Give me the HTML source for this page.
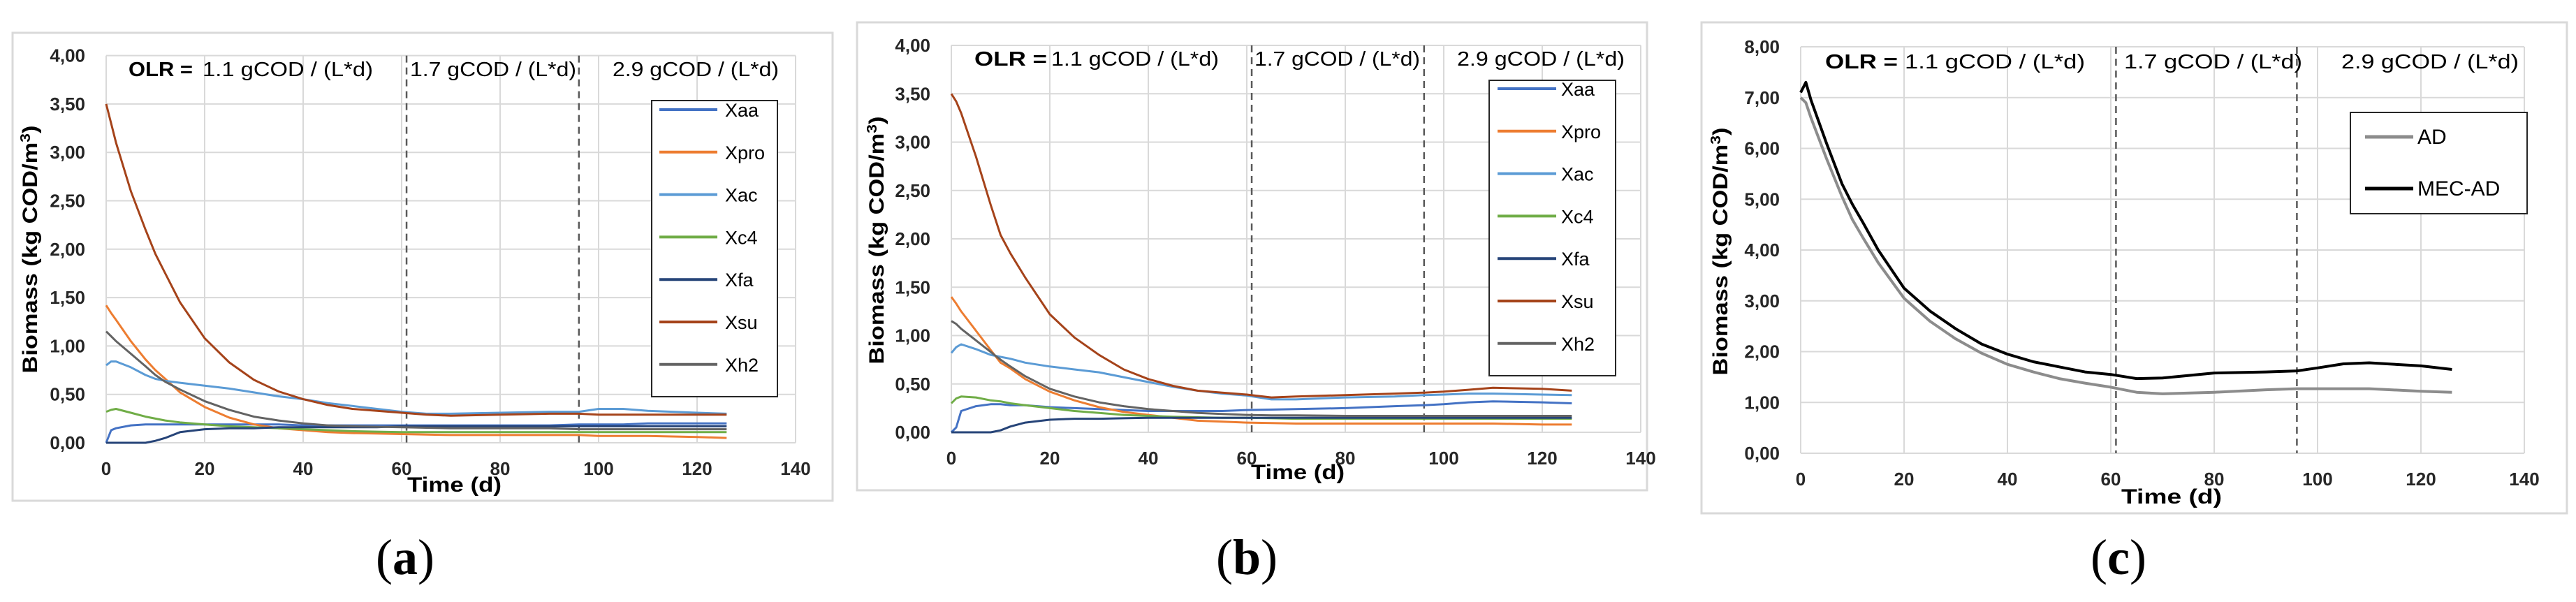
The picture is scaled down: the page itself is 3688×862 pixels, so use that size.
<!DOCTYPE html>
<html><head><meta charset="utf-8"><style>
html,body{margin:0;padding:0;background:#fff;}
svg{display:block;}
text{font-family:"Liberation Sans",sans-serif;}
</style></head>
<body>
<svg id="fig" width="3688" height="862" viewBox="0 0 3688 862" xmlns="http://www.w3.org/2000/svg"></svg>
<script>
// ---- shared data ----
const days = [0,1,2,5,8,10,12,15,20,25,30,35,40,45,50,55,60,65,70,80,90,96,100,105,110,120,126];
const xTicks = [0,20,40,60,80,100,120,140];
const olrBreaks = [61,96];
const seriesNames = ["Xaa","Xpro","Xac","Xc4","Xfa","Xsu","Xh2"];
const seriesColors = ["#4472C4","#ED7D31","#5B9BD5","#70AD47","#264478","#A5431A","#636363"];
const yTicksAB = [0,0.5,1,1.5,2,2.5,3,3.5,4];
const yTicksC = [0,1,2,3,4,5,6,7,8];

// panel (a)
const aXaa = [0,0.13,0.15,0.18,0.19,0.19,0.19,0.19,0.19,0.19,0.19,0.19,0.18,0.18,0.18,0.18,0.18,0.18,0.18,0.18,0.18,0.19,0.19,0.19,0.2,0.2,0.2];
const aXpro = [1.42,1.34,1.27,1.05,0.86,0.75,0.66,0.52,0.37,0.26,0.19,0.15,0.13,0.11,0.10,0.095,0.09,0.085,0.08,0.08,0.08,0.08,0.07,0.07,0.07,0.06,0.05];
const aXac = [0.8,0.84,0.84,0.78,0.70,0.66,0.64,0.62,0.59,0.56,0.52,0.48,0.45,0.41,0.38,0.35,0.32,0.30,0.30,0.31,0.32,0.32,0.35,0.35,0.33,0.31,0.30];
const aXc4 = [0.32,0.34,0.35,0.31,0.27,0.25,0.23,0.21,0.19,0.17,0.16,0.15,0.14,0.13,0.12,0.115,0.11,0.11,0.11,0.11,0.11,0.11,0.11,0.11,0.11,0.11,0.11];
const aXfa = [0,0,0,0,0,0.02,0.05,0.11,0.14,0.15,0.15,0.16,0.16,0.16,0.16,0.16,0.17,0.17,0.17,0.17,0.17,0.17,0.17,0.17,0.17,0.17,0.17];
const aXsu = [3.5,3.3,3.1,2.6,2.2,1.95,1.75,1.45,1.08,0.83,0.65,0.53,0.45,0.39,0.35,0.33,0.31,0.29,0.28,0.29,0.30,0.30,0.29,0.29,0.29,0.29,0.29];
const aXh2 = [1.15,1.1,1.05,0.92,0.79,0.70,0.63,0.55,0.43,0.34,0.27,0.23,0.2,0.18,0.17,0.165,0.16,0.155,0.15,0.15,0.15,0.14,0.14,0.14,0.14,0.14,0.14];

// panel (b)
const bXaa = [0,0.05,0.22,0.27,0.29,0.29,0.28,0.28,0.26,0.25,0.24,0.23,0.22,0.22,0.22,0.22,0.23,0.235,0.24,0.25,0.27,0.28,0.29,0.31,0.32,0.31,0.30];
const bXpro = [1.4,1.33,1.25,1.05,0.85,0.72,0.66,0.55,0.42,0.33,0.26,0.21,0.18,0.15,0.12,0.11,0.10,0.095,0.09,0.09,0.09,0.09,0.09,0.09,0.09,0.08,0.08];
const bXac = [0.82,0.88,0.91,0.86,0.8,0.78,0.76,0.72,0.68,0.65,0.62,0.57,0.52,0.47,0.43,0.40,0.38,0.34,0.34,0.36,0.37,0.385,0.39,0.40,0.40,0.39,0.385];
const bXc4 = [0.3,0.35,0.37,0.36,0.33,0.32,0.3,0.28,0.25,0.22,0.2,0.18,0.17,0.16,0.155,0.15,0.15,0.145,0.14,0.14,0.14,0.14,0.14,0.14,0.14,0.14,0.14];
const bXfa = [0,0,0,0,0,0.02,0.06,0.1,0.13,0.14,0.14,0.145,0.15,0.15,0.15,0.15,0.15,0.15,0.15,0.15,0.15,0.15,0.15,0.15,0.15,0.15,0.15];
const bXsu = [3.5,3.42,3.3,2.85,2.35,2.04,1.85,1.6,1.22,0.98,0.8,0.65,0.55,0.48,0.43,0.41,0.39,0.36,0.37,0.385,0.40,0.41,0.42,0.44,0.46,0.45,0.43];
const bXh2 = [1.15,1.12,1.07,0.95,0.83,0.75,0.68,0.58,0.45,0.37,0.31,0.27,0.24,0.22,0.2,0.19,0.18,0.175,0.175,0.17,0.17,0.17,0.17,0.17,0.17,0.17,0.17];

// panel (c)
const cAD = [7.0,6.9,6.6,5.8,5.05,4.6,4.25,3.75,3.05,2.6,2.25,1.97,1.75,1.6,1.47,1.38,1.3,1.2,1.17,1.2,1.25,1.27,1.27,1.27,1.27,1.22,1.2];
const cMEC = [7.1,7.3,6.95,6.1,5.3,4.9,4.55,4.0,3.25,2.8,2.45,2.15,1.95,1.8,1.7,1.6,1.55,1.47,1.48,1.58,1.6,1.62,1.68,1.76,1.78,1.72,1.65];

const NS = "http://www.w3.org/2000/svg";
const svg = document.getElementById("fig");
function mk(tag, attrs, parent, txt){
  const e = document.createElementNS(NS, tag);
  for (const k in attrs) e.setAttribute(k, attrs[k]);
  if (txt !== undefined) e.textContent = txt;
  (parent || svg).appendChild(e);
  return e;
}
function fmt(v){ return v.toFixed(2).replace(".", ","); }

function panel(P){
  const g = mk("g", {});
  
  
  const fr = mk("rect", {x:P.fx0, y:P.fy0, width:P.fx1-P.fx0, height:P.fy1-P.fy0, fill:"#fff", stroke:"#d9d9d9", "stroke-width":3}, g);
  
  
  const X = d => P.x0 + d * P.xs;
  const Y = v => P.y0 - v * P.ys;
  P.yTicks.forEach(t => {
    const l = mk("line", {x1:X(0), x2:X(140), y1:Y(t), y2:Y(t), stroke:"#d9d9d9", "stroke-width":2}, g);
    
    
    const tx = mk("text", {x:P.x0-30, y:Y(t)+9, "text-anchor":"end", "font-size":26, "font-weight":"bold", fill:"#262626"}, g, fmt(t));
    
    
  });
  xTicks.forEach(t => {
    const l = mk("line", {x1:X(t), x2:X(t), y1:Y(P.yTicks[P.yTicks.length-1]), y2:P.y0, stroke:"#d9d9d9", "stroke-width":2}, g);
    
    
    const tx = mk("text", {x:X(t), y:P.y0+46, "text-anchor":"middle", "font-size":26, "font-weight":"bold", fill:"#262626"}, g, String(t));
    
    
  });
  olrBreaks.forEach(b => {
    const l = mk("line", {x1:X(b), x2:X(b), y1:Y(P.yTicks[P.yTicks.length-1]), y2:P.y0, stroke:"#595959", "stroke-width":2.5, "stroke-dasharray":"10,7"}, g);
    
    
  });
  P.series.forEach((s, i) => {
    const d = days.map((t, k) => (k ? "L" : "M") + X(t).toFixed(1) + "," + Y(s.vals[k]).toFixed(1)).join(" ");
    const p = mk("path", {d:d, fill:"none", stroke:s.color, "stroke-width":P.lw, "stroke-linejoin":"round"}, g);
    
    
  });
  P.ann.forEach(a => {
    const t = mk("text", {x:a.x, y:P.annY, "font-size":29, fill:"#000", textLength:a.w, lengthAdjust:"spacingAndGlyphs", "font-weight":a.bold?"bold":"normal"}, g, a.t);
    
    
  });
  const xt = mk("text", {x:P.tx, y:P.ty, "font-size":30, "font-weight":"bold", textLength:P.tw, lengthAdjust:"spacingAndGlyphs", fill:"#000"}, g, "Time (d)");
  
  
  const yt = mk("text", {x:0, y:0, "font-size":30, "font-weight":"bold", "text-anchor":"middle", textLength:355, lengthAdjust:"spacingAndGlyphs", fill:"#000", transform:"translate(" + P.ytx + "," + P.yty + ") rotate(-90)"}, g);
  
  
  yt.appendChild(document.createTextNode("Biomass (kg COD/m"));
  mk("tspan", {"font-size":20, dy:-10}, yt, "3");
  mk("tspan", {dy:10}, yt, ")");
  const L = P.leg;
  const lg = mk("g", {}, g);
  
  
  mk("rect", {x:L.x0, y:L.y0, width:L.x1-L.x0, height:L.y1-L.y0, fill:"#fff", stroke:"#262626", "stroke-width":2}, lg);
  P.series.forEach((s, i) => {
    const y = L.ey0 + i * L.step;
    const e = mk("g", {}, lg);
    
    
    mk("line", {x1:L.lx0, x2:L.lx1, y1:y, y2:y, stroke:s.color, "stroke-width":P.lw+1}, e);
    mk("text", {x:L.tx, y:y+10, "font-size":L.fs, fill:"#000"}, e, s.name);
  });
  const cap = mk("text", {x:P.capx, y:822, "text-anchor":"middle", "font-size":72, style:"font-family:'Liberation Serif',serif"}, svg);
  
  
  cap.appendChild(document.createTextNode("("));
  mk("tspan", {"font-weight":"bold"}, cap, P.letter);
  cap.appendChild(document.createTextNode(")"));
}

function abSeries(arrs){ return seriesNames.map((n, i) => ({name:n, color:seriesColors[i], vals:arrs[i]})); }

panel({name:"panel-a", letter:"a", fx0:18, fx1:1192, fy0:47, fy1:717, x0:152, xs:7.05, y0:634, ys:138.6, yTicks:yTicksAB, lw:3,
  series: abSeries([aXaa,aXpro,aXac,aXc4,aXfa,aXsu,aXh2]),
  annY:109, ann:[{x:184,w:92,t:"OLR =",bold:true},{x:290,w:244,t:"1.1 gCOD / (L*d)"},{x:587,w:238,t:"1.7 gCOD / (L*d)"},{x:877,w:238,t:"2.9 gCOD / (L*d)"}],
  tx:583, ty:704, tw:135, ytx:53, yty:357,
  leg:{x0:933,x1:1113,y0:144,y1:568,ey0:157,step:60.8,lx0:944,lx1:1027,tx:1038,fs:27},
  capx:580});

panel({name:"panel-b", letter:"b", fx0:1227, fx1:2358, fy0:32, fy1:702, x0:1362, xs:7.05, y0:619, ys:138.5, yTicks:yTicksAB, lw:3,
  series: abSeries([bXaa,bXpro,bXac,bXc4,bXfa,bXsu,bXh2]),
  annY:94, ann:[{x:1395,w:104,t:"OLR =",bold:true},{x:1505,w:240,t:"1.1 gCOD / (L*d)"},{x:1796,w:237,t:"1.7 gCOD / (L*d)"},{x:2086,w:240,t:"2.9 gCOD / (L*d)"}],
  tx:1791, ty:686, tw:134, ytx:1265, yty:344,
  leg:{x0:2132,x1:2313,y0:115,y1:538,ey0:127,step:60.8,lx0:2144,lx1:2228,tx:2235,fs:27},
  capx:1785});

panel({name:"panel-c", letter:"c", fx0:2436, fx1:3675, fy0:32, fy1:735, x0:2578, xs:7.4, y0:649, ys:72.75, yTicks:yTicksC, lw:4,
  series:[{name:"AD", color:"#8c8c8c", vals:cAD},{name:"MEC-AD", color:"#000000", vals:cMEC}],
  annY:98, ann:[{x:2613,w:104,t:"OLR =",bold:true},{x:2727,w:258,t:"1.1 gCOD / (L*d)"},{x:3041,w:255,t:"1.7 gCOD / (L*d)"},{x:3352,w:254,t:"2.9 gCOD / (L*d)"}],
  tx:3037, ty:721, tw:144, ytx:2473, yty:360,
  leg:{x0:3365,x1:3618,y0:161,y1:306,ey0:196,step:74,lx0:3386,lx1:3455,tx:3461,fs:30},
  capx:3033});
</script>
</body></html>
